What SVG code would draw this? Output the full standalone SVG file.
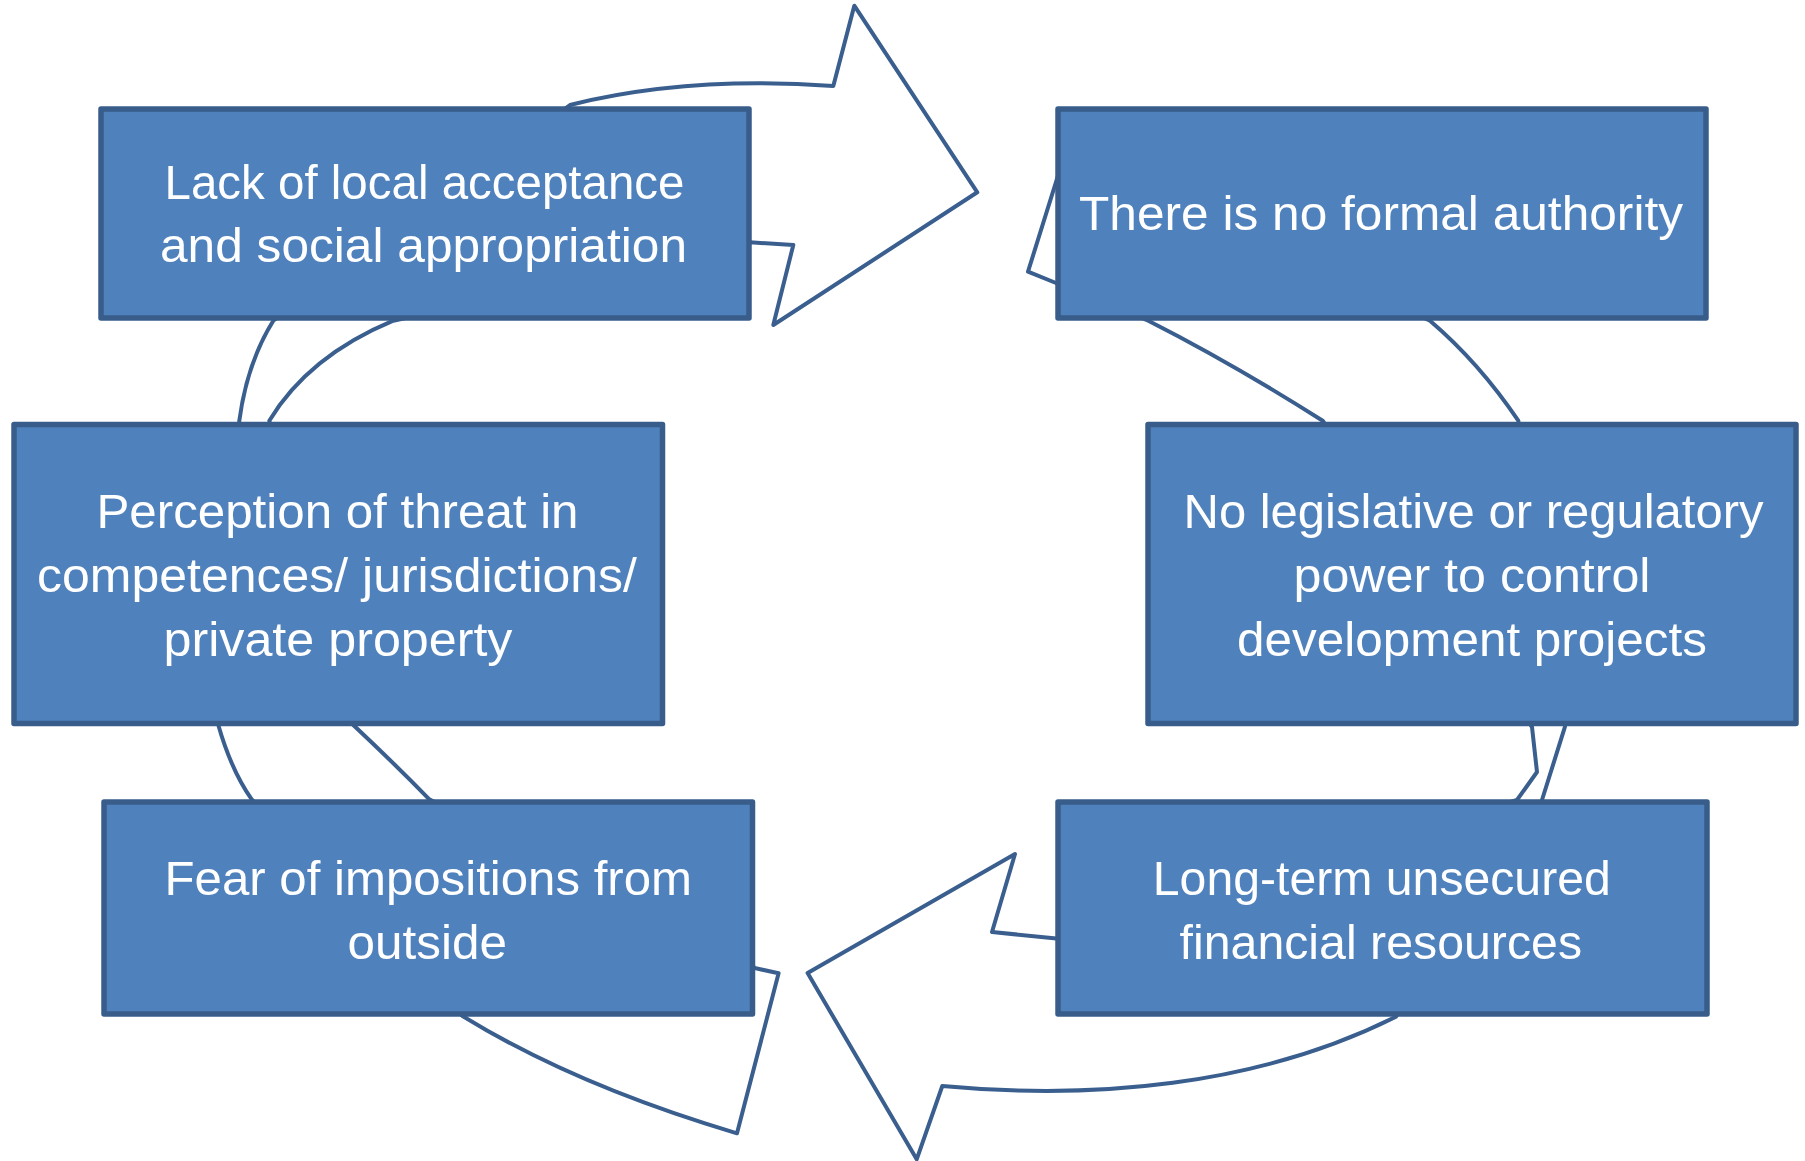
<svg xmlns="http://www.w3.org/2000/svg" width="1805" height="1161" viewBox="0 0 1805 1161">
  <style>
    .arrow { fill: #ffffff; stroke: #3A5F8E; stroke-width: 4; stroke-linejoin: round; }
    .box { fill: #4F81BD; stroke: #385D8A; stroke-width: 5.5; stroke-linejoin: round; }
    .lbl { fill: #ffffff; font-family: "Liberation Sans", Arial, sans-serif; font-size: 49px; text-anchor: middle; }
  </style>
  <rect width="1805" height="1161" fill="#ffffff"/>
  <g id="connectors">
    <path id="arrow-left" class="arrow" d="M 737,1133.3 Q 575.25,1085.35 462.5,1016 L 251.7,799.3 Q 231.6,771.25 218.3,725 L 239.3,420.7 Q 247.1,362.7 273.3,320.7 L 570,105 Q 686.9,75.8 833.3,86 L 854.3,5.7 L 977.3,192.3 L 773.3,325 L 793.3,245 L 750,242.3 L 393.3,320.7 Q 308.7,355.9 269.3,420.7 L 353.3,725 Q 395.3,764.45 429.3,799.3 L 755.8,968.3 L 778.6,973.3 Z"/>
    <path id="arrow-right" class="arrow" d="M 1066,150 L 1430,320.7 Q 1479.25,362.7 1518.3,420.7 L 1565,726.7 L 1542,800 L 1396,1016.7 C 1256,1086.7 1092,1100 942.3,1086 L 916.7,1159.3 L 807.6,973 L 1015,854 L 992,932 L 1056.4,938.5 L 1517,800 L 1537,772 L 1532,727 L 1322.7,420.7 Q 1231.1,362.7 1148.3,320.7 L 1056,283 L 1028,271.7 Z"/>
  </g>
  <g id="node-lack">
    <rect class="box" x="101" y="109" width="648" height="209"/>
    <text class="lbl" x="424.5" y="199" textLength="520" lengthAdjust="spacingAndGlyphs">Lack of local acceptance</text>
    <text class="lbl" x="423.5" y="262" textLength="527" lengthAdjust="spacingAndGlyphs">and social appropriation</text>
  </g>
  <g id="node-authority">
    <rect class="box" x="1058" y="109" width="648" height="209"/>
    <text class="lbl" x="1381" y="230" textLength="604" lengthAdjust="spacingAndGlyphs">There is no formal authority</text>
  </g>
  <g id="node-threat">
    <rect class="box" x="14" y="424.5" width="648.5" height="299"/>
    <text class="lbl" x="337.5" y="528" textLength="482" lengthAdjust="spacingAndGlyphs">Perception of threat in</text>
    <text class="lbl" x="337" y="592" textLength="600" lengthAdjust="spacingAndGlyphs">competences/ jurisdictions/</text>
    <text class="lbl" x="338" y="656" textLength="349" lengthAdjust="spacingAndGlyphs">private property</text>
  </g>
  <g id="node-legislative">
    <rect class="box" x="1148" y="424.5" width="648" height="299"/>
    <text class="lbl" x="1473.5" y="528" textLength="580" lengthAdjust="spacingAndGlyphs">No legislative or regulatory</text>
    <text class="lbl" x="1472" y="592" textLength="357" lengthAdjust="spacingAndGlyphs">power to control</text>
    <text class="lbl" x="1472" y="656" textLength="470" lengthAdjust="spacingAndGlyphs">development projects</text>
  </g>
  <g id="node-fear">
    <rect class="box" x="104" y="802" width="648.5" height="212"/>
    <text class="lbl" x="428.3" y="895" textLength="527.5" lengthAdjust="spacingAndGlyphs">Fear of impositions from</text>
    <text class="lbl" x="427.3" y="959" textLength="159.4" lengthAdjust="spacingAndGlyphs">outside</text>
  </g>
  <g id="node-financial">
    <rect class="box" x="1058" y="802" width="649" height="212"/>
    <text class="lbl" x="1381.8" y="895" textLength="458" lengthAdjust="spacingAndGlyphs">Long-term unsecured</text>
    <text class="lbl" x="1380.8" y="959" textLength="402.5" lengthAdjust="spacingAndGlyphs">financial resources</text>
  </g>
</svg>
